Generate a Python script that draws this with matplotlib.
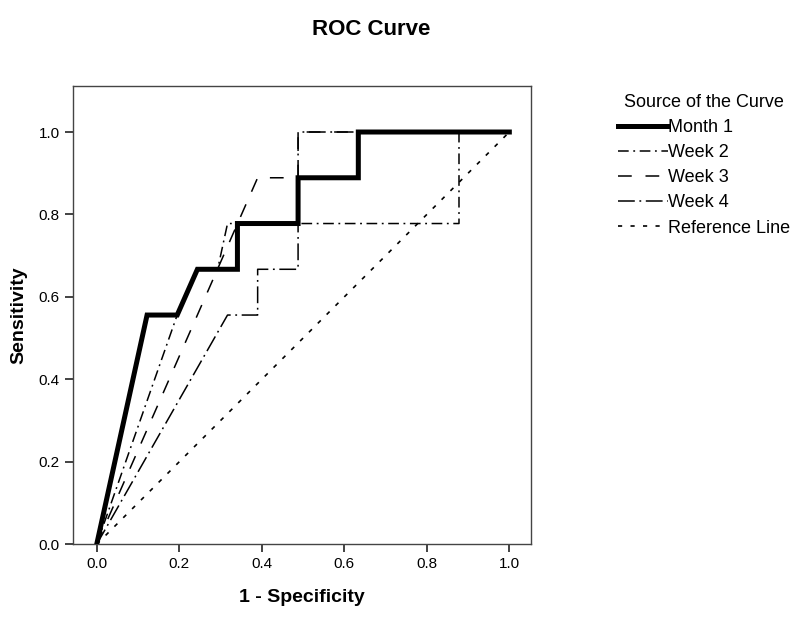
import matplotlib
matplotlib.use("Agg")
import matplotlib.pyplot as plt

plt.rcParams['font.family'] = ['Liberation Sans', 'DejaVu Sans']

# 1 - specificity / sensitivity
month1_fpr = [0, 0.122, 0.195, 0.244, 0.341, 0.341, 0.488, 0.488, 0.634, 0.634, 1.0]
month1_tpr = [0, 0.556, 0.556, 0.667, 0.667, 0.778, 0.778, 0.889, 0.889, 1.0, 1.0]

week2_fpr = [0, 0.195, 0.244, 0.293, 0.317, 0.878, 0.878, 1.0]
week2_tpr = [0, 0.556, 0.667, 0.667, 0.778, 0.778, 1.0, 1.0]

week3_fpr = [0, 0.390, 0.488, 0.488, 1.0]
week3_tpr = [0, 0.889, 0.889, 1.0, 1.0]

week4_fpr = [0, 0.317, 0.390, 0.390, 0.488, 0.488, 1.0]
week4_tpr = [0, 0.556, 0.556, 0.667, 0.667, 1.0, 1.0]

ref_x = [0, 1]
ref_y = [0, 1]

ticks = [0.0, 0.2, 0.4, 0.6, 0.8, 1.0]
tick_labels = ['0.0', '0.2', '0.4', '0.6', '0.8', '1.0']

f = plt.figure(figsize=(8, 6.22), dpi=100)
ax = f.add_axes([0.091, 0.125, 0.573, 0.737])

l1, = ax.plot(month1_fpr, month1_tpr, color='black', lw=3.6, zorder=5,
              solid_joinstyle='miter', label='Month 1')
l2, = ax.plot(week2_fpr, week2_tpr, color='black', lw=1.1,
              ls=(0, (7, 3, 1.2, 3)), label='Week 2')
l3, = ax.plot(week3_fpr, week3_tpr, color='black', lw=1.1,
              ls=(0, (9, 9)), label='Week 3')
l4, = ax.plot(week4_fpr, week4_tpr, color='black', lw=1.1,
              ls=(0, (11, 3, 1.2, 3)), label='Week 4')
l5, = ax.plot(ref_x, ref_y, color='black', lw=1.2,
              ls=(0, (2.5, 5)), label='Reference Line')

ax.set_xlim(-0.058, 1.053)
ax.set_ylim(0, 1.112)
ax.set_xticks(ticks)
ax.set_xticklabels(tick_labels)
ax.set_yticks(ticks)
ax.set_yticklabels(tick_labels)
ax.tick_params(direction='out', length=6, width=1.2, labelsize=11, color='#222222')
for s in ax.spines.values():
    s.set_color('#444444')
    s.set_linewidth(1.0)

ax.set_xlabel('1 - Specificity', fontsize=14, fontweight='bold', labelpad=13)
ax.set_ylabel('Sensitivity', fontsize=14, fontweight='bold', labelpad=8)
f.suptitle('ROC Curve', x=0.464, y=0.969, fontsize=16, fontweight='bold')

leg = f.legend(handles=[l1, l2, l3, l4, l5], loc='upper left',
               bbox_to_anchor=(0.772, 0.849), frameon=False,
               title='Source of the Curve', fontsize=13, title_fontsize=13,
               handlelength=2.8, handletextpad=0.0, labelspacing=0.45,
               borderpad=0, borderaxespad=0)

plt.savefig('out.png', dpi=100)
